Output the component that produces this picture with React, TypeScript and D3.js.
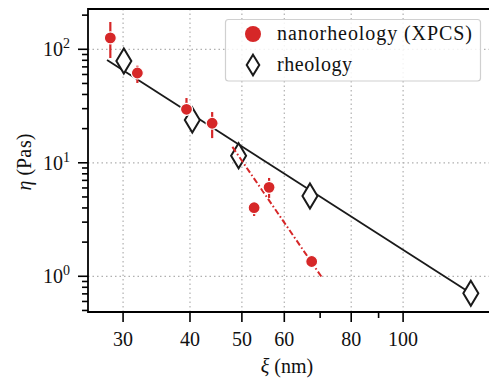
import * as d3 from "d3"

// nanorheology (XPCS) points
const nanoXi = [28.4, 31.9, 39.4, 44.0, 52.7, 56.2, 67.5]
const nanoEta = [126, 61.8, 29.6, 22.3, 4.02, 6.08, 1.35]
const nanoLo = [83.8, 50.5, 26.4, 16.5, 3.4, 4.9, 1.25]
const nanoHi = [174, 71.7, 37.2, 28.0, 4.4, 7.35, 1.45]
// nanorheology fit (dash-dot)
const nanoFitXi = [48, 70.5]
const nanoFitEta = [13.8, 0.98]

// rheology points
const rheoXi = [30.1, 40.4, 49.3, 67.0, 133.8]
const rheoEta = [78.9, 23.8, 11.55, 5.1, 0.708]
// rheology fit
const rheoFitXi = [28, 133.8]
const rheoFitEta = [80.5, 0.708]

const xMajor = [30, 40, 50, 60, 80, 100]
const xMinor = [70, 90]
const yMajor = [1, 10, 100]
const yExp = ["0", "1", "2"]

const RED = "#d62728"
const FF = "Liberation Serif"

const W = 489
const H = 380
const left = 88
const right = 490
const top = 9
const bottom = 312

const App = () => {
  const x = d3.scaleLog().domain([25.8, 145.3]).range([left, right])
  const y = d3.scaleLog().domain([226.5, 0.4845]).range([top, bottom])

  const yMinor: number[] = []
  ;[0.1, 1, 10, 100].forEach((dec) => {
    for (let k = 2; k <= 9; k++) {
      const v = dec * k
      if (v > 0.4845 && v < 226.5) yMinor.push(v)
    }
  })

  const line = d3
    .line<[number, number]>()
    .x((d) => x(d[0]))
    .y((d) => y(d[1]))

  const rheoLine = line(rheoFitXi.map((v, i) => [v, rheoFitEta[i]]))
  const nanoLine = line(nanoFitXi.map((v, i) => [v, nanoFitEta[i]]))

  const diamond = (cx: number, cy: number, hw = 7.5, hh = 12.5) =>
    `M${cx},${cy - hh}L${cx + hw},${cy}L${cx},${cy + hh}L${cx - hw},${cy}Z`

  return (
    <svg
      width={W}
      height={H}
      fontFamily={FF}
      style={{ position: "absolute", left: 0, top: 0, background: "white" }}
    >
      {/* grid */}
      <g stroke="#b0b0b0" strokeWidth={1.2} strokeDasharray="1.5,3">
        {xMajor.map((t) => (
          <line key={"gx" + t} x1={x(t)} x2={x(t)} y1={top} y2={bottom} />
        ))}
        {yMajor.map((t) => (
          <line key={"gy" + t} x1={left} x2={right} y1={y(t)} y2={y(t)} />
        ))}
      </g>

      {/* rheology fit + markers */}
      <path d={rheoLine || ""} fill="none" stroke="#1a1a1a" strokeWidth={1.8} />
      {rheoXi.map((v, i) => (
        <path
          key={"r" + i}
          d={diamond(x(v), y(rheoEta[i]))}
          fill="white"
          stroke="#1a1a1a"
          strokeWidth={2}
        />
      ))}

      {/* nanorheology fit */}
      <path
        d={nanoLine || ""}
        fill="none"
        stroke={RED}
        strokeWidth={2}
        strokeDasharray="6,2.5,1.6,2.5"
      />

      {/* error bars */}
      {nanoXi.map((v, i) => (
        <line
          key={"e" + i}
          x1={x(v)}
          x2={x(v)}
          y1={y(nanoLo[i])}
          y2={y(nanoHi[i])}
          stroke={RED}
          strokeWidth={2.2}
        />
      ))}
      {nanoXi.map((v, i) => (
        <circle
          key={"n" + i}
          cx={x(v)}
          cy={y(nanoEta[i])}
          r={6}
          fill={RED}
          stroke="white"
          strokeWidth={1.2}
        />
      ))}

      {/* spines */}
      <g stroke="black" strokeWidth={1.8} fill="none">
        <line x1={left} x2={left} y1={top - 0.9} y2={bottom + 0.9} />
        <line x1={left} x2={right + 2} y1={bottom} y2={bottom} />
        <line x1={left} x2={right + 2} y1={top} y2={top} />
      </g>

      {/* ticks */}
      <g stroke="black" strokeWidth={1.6}>
        {xMajor.map((t) => (
          <line key={"xt" + t} x1={x(t)} x2={x(t)} y1={bottom} y2={bottom + 10} />
        ))}
        {xMinor.map((t) => (
          <line key={"xm" + t} x1={x(t)} x2={x(t)} y1={bottom} y2={bottom + 6} />
        ))}
        {yMajor.map((t) => (
          <line key={"yt" + t} x1={left - 10} x2={left} y1={y(t)} y2={y(t)} />
        ))}
        {yMinor.map((t) => (
          <line key={"ym" + t} x1={left - 6} x2={left} y1={y(t)} y2={y(t)} />
        ))}
      </g>

      {xMajor.map((t) => (
        <text key={"xl" + t} x={x(t)} y={346} textAnchor="middle" fontSize={20} fill="#111" fontFamily={FF}>
          {t}
        </text>
      ))}
      {yMajor.map((t, i) => (
        <text key={"yl" + t} x={43} y={y(t) + 7} fontSize={20} fill="#111" fontFamily={FF}>
          10
          <tspan dy={-8} fontSize={14}>
            {yExp[i]}
          </tspan>
        </text>
      ))}

      {/* axis labels */}
      <text x={287} y={373} textAnchor="middle" fontSize={20} fill="#111" fontFamily={FF}>
        <tspan fontStyle="italic">ξ</tspan> (nm)
      </text>
      <text
        transform="translate(31,162) rotate(-90)"
        textAnchor="middle"
        fontSize={20}
        fill="#111"
        fontFamily={FF}
      >
        <tspan fontStyle="italic">η</tspan> (Pa<tspan dx={1}>s</tspan>)
      </text>

      {/* legend */}
      <rect
        x={225.5}
        y={19.5}
        width={255}
        height={61.5}
        rx={3}
        fill="rgba(255,255,255,0.85)"
        stroke="#d0d0d0"
        strokeWidth={1.2}
      />
      <circle cx={253} cy={34} r={8} fill={RED} />
      <path d={diamond(253, 65, 6.3, 10.3)} fill="white" stroke="#1a1a1a" strokeWidth={2} />
      <text x={277} y={40} fontSize={20} fill="#111" fontFamily={FF} textLength={195} lengthAdjust="spacing">
        nanorheology (XPCS)
      </text>
      <text x={277} y={71} fontSize={20} fill="#111" fontFamily={FF} textLength={75} lengthAdjust="spacing">
        rheology
      </text>
    </svg>
  )
}

export default App
